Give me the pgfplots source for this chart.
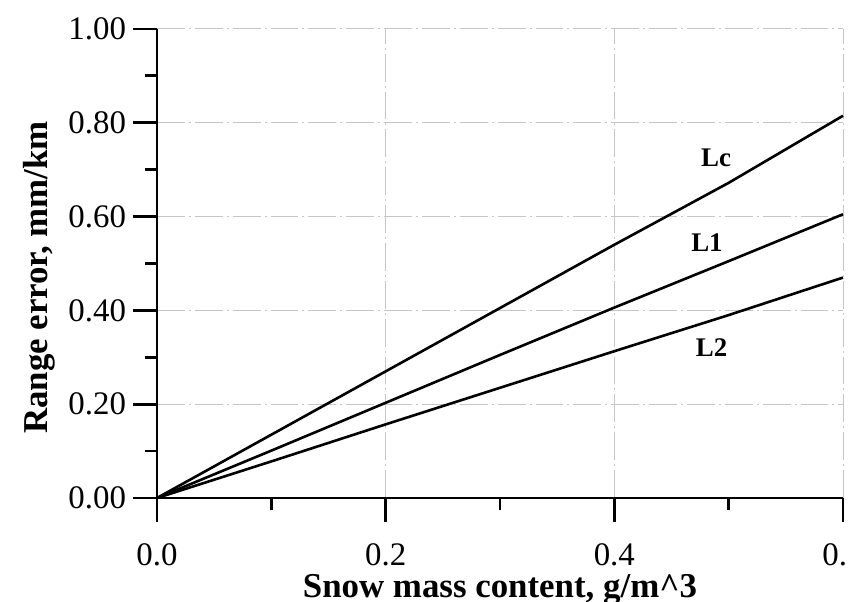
\documentclass[border=0pt]{standalone}
\usepackage{fontspec}
\setmainfont{Liberation Serif}
\usepackage{pgfplots}
\pgfplotsset{compat=1.18}

\begin{document}
\begin{tikzpicture}
  \begin{axis}[
      name=ax,
      scale only axis,
      width=343bp, height=234.5bp,
      xmin=0, xmax=0.6, ymin=0, ymax=1,
      axis lines=left,
      axis line style={-, line width=1.4bp},
      xtick={0,0.2,0.4,0.6},
      ytick={0,0.2,0.4,0.6,0.8,1.0},
      minor tick num=1,
      tick align=outside,
      major tick length=12bp, minor tick length=6bp,
      tick style={line width=1.4bp, black},
      xmajorgrids, ymajorgrids,
      major grid style={gray!45, line width=0.5pt,
        dash pattern=on 14pt off 2pt on 1pt off 2pt},
      /pgf/number format/assume math mode=true,
      ticklabel style={font=\fontsize{16.5}{19}\selectfont},
      xticklabel style={yshift=-7.3bp,
        /pgf/number format/.cd, fixed, fixed zerofill, precision=1},
      yticklabel style={/pgf/number format/.cd, fixed, fixed zerofill, precision=2},
      xlabel={\bfseries Snow mass content, g/m\^{}3},
      ylabel={\bfseries Range error, mm/km},
      label style={font=\fontsize{17.5}{20}\selectfont},
      xlabel style={at={(axis description cs:0.5,0)}, anchor=base, yshift=-49.5bp},
      ylabel style={at={(ticklabel cs:0.47)}},
      clip=false,
    ]
    % Lc
    \addplot[black, line width=1.3bp] coordinates {
      (0,0) (0.1,0.135) (0.2,0.27) (0.3,0.405) (0.4,0.54) (0.5,0.672) (0.6,0.815)
    };
    % L1
    \addplot[black, line width=1.3bp] coordinates {
      (0,0) (0.1,0.101) (0.2,0.203) (0.3,0.305) (0.4,0.406) (0.5,0.505) (0.6,0.605)
    };
    % L2
    \addplot[black, line width=1.3bp] coordinates {
      (0,0) (0.1,0.078) (0.2,0.157) (0.3,0.235) (0.4,0.313) (0.5,0.39) (0.6,0.47)
    };
    \node[font=\fontsize{13.5}{15}\selectfont\bfseries] at (axis cs:0.489,0.725) {Lc};
    \node[font=\fontsize{13.5}{15}\selectfont\bfseries] at (axis cs:0.481,0.544) {L1};
    \node[font=\fontsize{13.5}{15}\selectfont\bfseries] at (axis cs:0.485,0.32) {L2};
  \end{axis}
  \pgfresetboundingbox
  \path[use as bounding box] ([xshift=-78.5bp,yshift=-52bp]ax.south west)
    rectangle ([xshift=2.5bp,yshift=14.5bp]ax.north east);
\end{tikzpicture}
\end{document}
